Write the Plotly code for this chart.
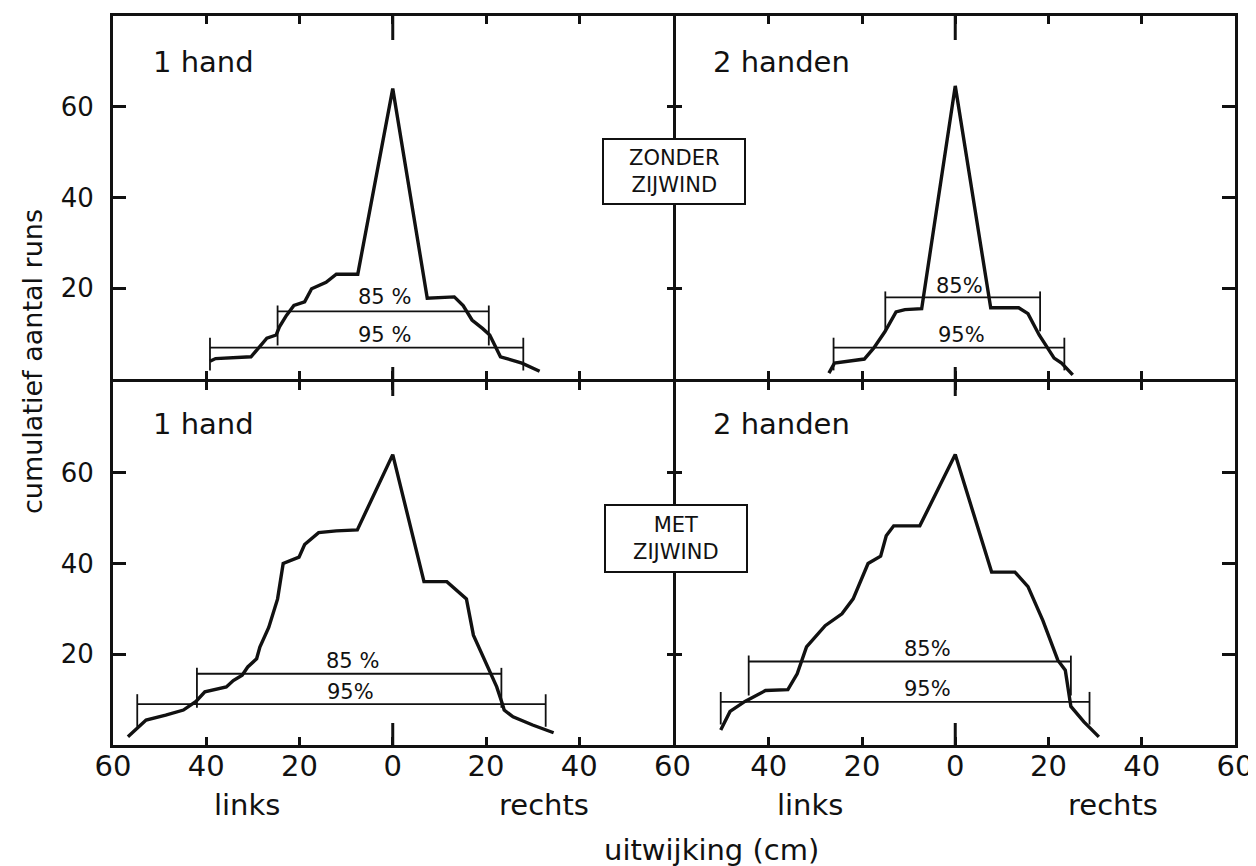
import plotly.graph_objects as go

# ---------------- data ----------------
PANEL_TITLES = ["1 hand", "2 handen", "1 hand", "2 handen"]
CONDITIONS = ["ZONDER<br>ZIJWIND", "MET<br>ZIJWIND"]

# top-left: 1 hand, zonder zijwind  (negative = links)
TL_X = [-39.2, -38.0, -30.4, -28.9, -27.0, -25.0, -24.3, -22.8, -21.2, -18.9, -17.4, -14.3,
        -12.1, -7.5, 0.0, 7.4, 13.2, 15.1, 17.0, 19.3, 20.8, 23.1, 27.7, 31.5]
TL_Y = [3.9, 4.5, 4.9, 6.8, 9.0, 9.7, 11.5, 14.0, 16.2, 17.0, 19.9, 21.3,
        23.1, 23.1, 64.0, 17.8, 18.1, 16.2, 13.0, 11.1, 9.7, 4.9, 3.5, 1.7]
# top-right: 2 handen, zonder zijwind
TR_X = [-27.1, -25.9, -19.5, -17.5, -15.1, -13.6, -12.7, -10.8, -7.2, 0.0,
        7.6, 13.6, 15.6, 18.0, 21.2, 22.8, 25.2]
TR_Y = [1.3, 3.5, 4.4, 6.8, 10.4, 13.3, 14.8, 15.3, 15.5, 64.6,
        15.7, 15.7, 14.4, 9.7, 4.6, 3.5, 0.9]
# bottom-left: 1 hand, met zijwind
BL_X = [-56.8, -54.8, -52.9, -48.7, -44.9, -42.2, -40.3, -35.7, -34.2, -32.3, -31.1, -29.2,
        -28.5, -26.6, -24.7, -23.5, -20.1, -18.9, -15.9, -12.1, -7.6, 0.0, 6.7, 11.6,
        15.8, 17.3, 20.0, 22.3, 23.5, 23.9, 25.8, 30.0, 34.5]
BL_Y = [1.8, 3.7, 5.5, 6.6, 7.7, 9.6, 11.7, 12.8, 14.2, 15.4, 17.2, 19.0,
        21.6, 25.9, 32.2, 40.0, 41.4, 44.2, 46.8, 47.2, 47.4, 64.0, 36.0, 36.0,
        32.2, 24.2, 17.9, 12.8, 9.1, 7.7, 6.2, 4.4, 2.7]
# bottom-right: 2 handen, met zijwind
BR_X = [-50.3, -48.3, -45.1, -40.7, -35.9, -33.9, -31.9, -30.3, -27.9, -24.3, -21.9, -18.7,
        -16.0, -14.8, -13.2, -7.6, 0.0, 7.8, 12.8, 15.6, 18.8, 22.0, 23.6, 24.8, 27.6, 30.8]
BR_Y = [3.3, 7.4, 9.6, 12.0, 12.2, 15.7, 21.6, 23.5, 26.3, 28.9, 32.2, 40.0,
        41.6, 46.1, 48.3, 48.3, 64.0, 38.1, 38.1, 34.9, 27.4, 18.7, 16.5, 8.5, 5.1, 1.8]

CURVES_X = [TL_X, TR_X, BL_X, BR_X]
CURVES_Y = [TL_Y, TR_Y, BL_Y, BR_Y]

# 85 % and 95 % intervals per panel (TL, TR, BL, BR)
P85_LO = [-24.7, -15.0, -42.0, -44.3]
P85_HI = [20.6, 18.2, 23.3, 24.8]
P85_Y = [14.9, 18.0, 15.7, 18.4]
P95_LO = [-39.2, -26.1, -54.8, -50.3]
P95_HI = [28.0, 23.4, 32.8, 28.8]
P95_Y = [6.9, 6.9, 9.0, 9.5]

P85_TEXT = ["85 %", "85%", "85 %", "85%"]
P85_TX = [-1.7, 0.9, -8.6, -6.0]
P85_TY = [18.0, 20.6, 18.5, 21.2]
P95_TEXT = ["95 %", "95%", "95%", "95%"]
P95_TX = [-1.7, 1.3, -9.1, -6.0]
P95_TY = [9.6, 9.6, 11.7, 12.4]

X_TICK_VALUES = [-60, -40, -20, 0, 20, 40, 60]
X_TICK_TEXT = ["60", "40", "20", "0", "20", "40", "60"]
Y_TICK_VALUES = [20, 40, 60]
SIDE_LABELS = ["links", "rechts"]
X_TITLE = "uitwijking (cm)"
Y_TITLE = "cumulatief aantal runs"

# ---------------- layout helpers ----------------
PAGE_OFFSET = 8            # default body margin of the html page
W, H = 1256 - PAGE_OFFSET, 866 - PAGE_OFFSET
FRAME_L, FRAME_R, FRAME_T, FRAME_B = 113, 1235, 16, 745   # in page pixels
ML = FRAME_L - PAGE_OFFSET
MT = FRAME_T - PAGE_OFFSET
MR = W - (FRAME_R - PAGE_OFFSET)
MB = H - (FRAME_B - PAGE_OFFSET)
PW, PH = FRAME_R - FRAME_L, FRAME_B - FRAME_T
LW = 3
HALF_GAP_X = (LW / 2) / PW
HALF_GAP_Y = (LW / 2) / PH
PANEL_H = PH / 2 - LW / 2


def px(xp):
    return (xp - FRAME_L) / PW


def py(yp):
    return (FRAME_B - yp) / PH


FONT = "DejaVu Sans"
BLACK = "#111111"
CAP85 = (1.3, 7.5)
CAP95 = (2.2, 5.0)

SUFFIX = ["", "2", "3", "4"]
X_DOM = [[0, 0.5 - HALF_GAP_X], [0.5 + HALF_GAP_X, 1]] * 2
Y_DOM = [[0.5 + HALF_GAP_Y, 1]] * 2 + [[0, 0.5 - HALF_GAP_Y]] * 2

fig = go.Figure()


def bar_path(lo, hi, y, cap):
    up, down = cap
    xs = [lo, lo, None, lo, hi, None, hi, hi]
    ys = [y + up, y - down, None, y, y, None, y + up, y - down]
    return xs, ys


for i in range(4):
    xa, ya = "x" + SUFFIX[i], "y" + SUFFIX[i]
    fig.add_trace(go.Scatter(x=CURVES_X[i], y=CURVES_Y[i], mode="lines",
                             line=dict(color=BLACK, width=3.4), xaxis=xa, yaxis=ya,
                             showlegend=False, hoverinfo="skip"))
    for lo, hi, yy, cap in [(P85_LO[i], P85_HI[i], P85_Y[i], CAP85),
                            (P95_LO[i], P95_HI[i], P95_Y[i], CAP95)]:
        bx, by = bar_path(lo, hi, yy, cap)
        fig.add_trace(go.Scatter(x=bx, y=by, mode="lines",
                                 line=dict(color=BLACK, width=1.8), xaxis=xa, yaxis=ya,
                                 showlegend=False, hoverinfo="skip"))
    for tx, ty, tt in [(P85_TX[i], P85_TY[i], P85_TEXT[i]), (P95_TX[i], P95_TY[i], P95_TEXT[i])]:
        fig.add_annotation(x=tx, y=ty, xref=xa, yref=ya, text=tt, showarrow=False,
                           xanchor="center", yanchor="middle",
                           font=dict(family=FONT, size=21, color=BLACK))
    # empty trace so that the overlay axis (middle-line crossing ticks) is drawn
    fig.add_trace(go.Scatter(x=[], y=[], xaxis=xa, yaxis="y" + str(i + 5),
                             showlegend=False, hoverinfo="skip"))

layout = dict(width=W, height=H, margin=dict(l=ML, r=MR, t=MT, b=MB, autoexpand=False),
              paper_bgcolor="white", plot_bgcolor="white", showlegend=False)

for i in range(4):
    bottom = i >= 2
    left = i % 2 == 0
    xkey, ykey = "xaxis" + SUFFIX[i], "yaxis" + SUFFIX[i]
    if bottom:
        tv = X_TICK_VALUES if left else X_TICK_VALUES[1:]
        tt = X_TICK_TEXT if left else X_TICK_TEXT[1:]
    else:
        tv, tt = X_TICK_VALUES, X_TICK_TEXT
    layout[xkey] = dict(domain=X_DOM[i], anchor="y" + SUFFIX[i], range=[-60, 60],
                        showline=True, linewidth=LW, linecolor=BLACK, mirror="ticks",
                        ticks="inside", ticklen=8, tickwidth=2.5, tickcolor=BLACK,
                        tickvals=tv, ticktext=tt, showticklabels=bottom,
                        tickfont=dict(family=FONT, size=29, color=BLACK),
                        ticklabelstandoff=-7, automargin=False,
                        showgrid=False, zeroline=False, fixedrange=True)
    layout[ykey] = dict(domain=Y_DOM[i], anchor="x" + SUFFIX[i], range=[0, 80],
                        side="left" if left else "right",
                        showline=True, linewidth=LW, linecolor=BLACK, mirror=True,
                        ticks="inside", ticklen=13, tickwidth=2.5, tickcolor=BLACK,
                        tickvals=Y_TICK_VALUES, showticklabels=left,
                        tickfont=dict(family=FONT, size=26, color=BLACK),
                        ticklabelstandoff=11, automargin=False,
                        showgrid=False, zeroline=False, fixedrange=True)
    # overlay axis for the short crossing ticks on the middle vertical line
    layout["yaxis" + str(i + 5)] = dict(overlaying="y" + SUFFIX[i], anchor="x" + SUFFIX[i],
                                        side="right" if left else "left", range=[0, 80],
                                        showline=False, ticks="inside", ticklen=6,
                                        tickwidth=2.5, tickcolor=BLACK,
                                        tickvals=Y_TICK_VALUES, showticklabels=False,
                                        showgrid=False, zeroline=False, fixedrange=True)

fig.update_layout(**layout)

# longer tick marks at 0 on every horizontal frame line
for i in range(4):
    xa = "x" + SUFFIX[i]
    yd = "y" + SUFFIX[i] + " domain"
    if i < 2:
        spans = [(1, 1 - 24 / PANEL_H), (0, 12 / PANEL_H)]
    else:
        spans = [(1, 1 - 14 / PANEL_H), (0, 22 / PANEL_H)]
    for y0, y1 in spans:
        fig.add_shape(type="line", xref=xa, yref=yd, x0=0, x1=0, y0=y0, y1=y1,
                      line=dict(color=BLACK, width=3), layer="above")

# condition boxes on the middle line
BOXES = [(603, 139, 745, 204), (605, 505, 747, 572)]
for (x0, y0, x1, y1), txt in zip(BOXES, CONDITIONS):
    fig.add_shape(type="rect", xref="paper", yref="paper",
                  x0=px(x0), x1=px(x1), y0=py(y1), y1=py(y0),
                  fillcolor="white", line=dict(color=BLACK, width=2), layer="above")
    fig.add_annotation(xref="paper", yref="paper", x=px((x0 + x1) / 2), y=py((y0 + y1) / 2),
                       text=txt, showarrow=False, align="center",
                       xanchor="center", yanchor="middle",
                       font=dict(family=FONT, size=21, color=BLACK))

# panel titles
TITLE_POS = [(151, 62), (711, 62), (151, 424), (711, 424)]
for (tx, ty), t in zip(TITLE_POS, PANEL_TITLES):
    fig.add_annotation(xref="paper", yref="paper", x=px(tx), y=py(ty), text=t,
                       xanchor="left", yanchor="middle", showarrow=False,
                       font=dict(family=FONT, size=29, color=BLACK))

# links / rechts
SIDE_POS = [247, 544, 810, 1113]
for k, sx in enumerate(SIDE_POS):
    fig.add_annotation(xref="paper", yref="paper", x=px(sx), y=py(805),
                       text=SIDE_LABELS[k % 2], showarrow=False,
                       xanchor="center", yanchor="middle",
                       font=dict(family=FONT, size=29, color=BLACK))

fig.add_annotation(xref="paper", yref="paper", x=px(711), y=py(850), text=X_TITLE,
                   showarrow=False, xanchor="center", yanchor="middle",
                   font=dict(family=FONT, size=29, color=BLACK))
fig.add_annotation(xref="paper", yref="paper", x=px(32), y=py(362), text=Y_TITLE,
                   textangle=-90, showarrow=False, xanchor="center", yanchor="middle",
                   font=dict(family=FONT, size=27, color=BLACK))

fig.write_html("out.html")
